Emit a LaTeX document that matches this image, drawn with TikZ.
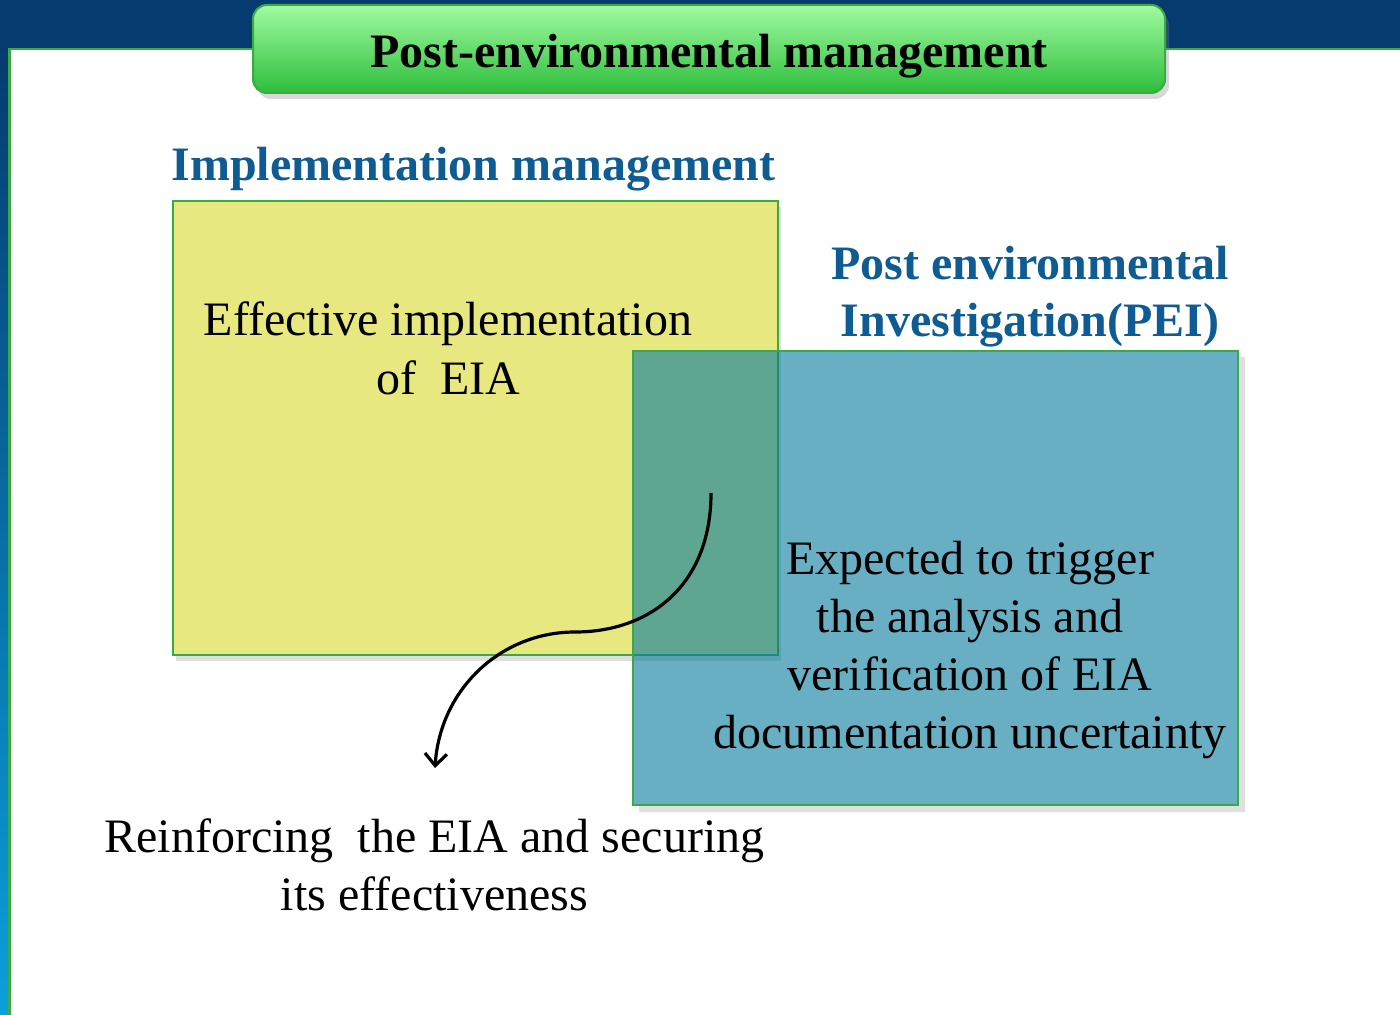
\documentclass[tikz,border=0pt]{standalone}
\usepackage{fontspec}
\setmainfont{Liberation Serif}
\usetikzlibrary{arrows.meta, shadows}
\definecolor{navy}{RGB}{6,59,111}
\definecolor{skyblue}{RGB}{10,160,220}
\definecolor{edgegreen}{RGB}{58,170,69}
\definecolor{lightgreen}{RGB}{160,251,160}
\definecolor{darkgreen}{RGB}{46,189,60}
\definecolor{headblue}{RGB}{15,92,147}
\definecolor{boxyellow}{RGB}{232,232,128}
\definecolor{boxblue}{RGB}{3,122,157}

\tikzset{
  body/.style={font=\fontsize{24}{29}\selectfont, align=center, anchor=base},
  heading/.style={font=\fontsize{24}{28.5}\selectfont\bfseries, text=headblue, align=center, anchor=base},
  titlebox/.style={draw=edgegreen, line width=1pt, rounded corners=7pt,
    top color=lightgreen, bottom color=darkgreen, minimum width=456pt, minimum height=44pt,
    text height=19pt, text depth=0pt, font=\fontsize{24}{28}\selectfont\bfseries,
    drop shadow={shadow xshift=2pt, shadow yshift=-3pt, opacity=0.3}},
}

\begin{document}
\begin{tikzpicture}[x=0.5pt, y=-0.5pt, >=latex]
	\useasboundingbox (0,0) rectangle (1400,1015);
	% frame of the slide
	\fill[navy] (0,0) rectangle (1400,49);
	\shade[top color=navy, bottom color=skyblue] (0,49) rectangle (9,1015);
	\draw[edgegreen, line width=1.2pt] (9.5,1015) -- (9.5,49) -- (1400,49);
	\node[titlebox] (title) at (709,49) {Post-environmental management};

	% the two boxes
	\draw[edgegreen, line width=0.8pt, fill=boxyellow,
	  drop shadow={shadow xshift=1.5pt, shadow yshift=-3pt, opacity=0.25}] (173,201) rectangle (778,655);
	\fill[black, opacity=0.12] (1238,357) -- (1245,357) -- (1245,812) -- (639,812) -- (639,805) -- (1238,805) -- cycle;
	\draw[edgegreen, line width=0.8pt, fill=boxblue, fill opacity=0.6] (633,351) rectangle (1238,805);

	% texts (base = last line)
	\node[heading] (implhead) at (473.5,181) {Implementation management};
	\node[heading] (peihead) at (1030,337) {Post environmental\\Investigation(PEI)};
	\node[body] (impltext) at (448,394) {Effective implementation\\of\ \ EIA};
	\node[body] (peitext) at (970,748) {Expected to trigger\\the analysis and\\verification of EIA\\documentation uncertainty};
	\node[body] (result) at (434.5,910) {Reinforcing\ \ the EIA and securing\\its effectiveness};

	\coordinate (arrstart) at (711,493);
	\coordinate (arrend) at (435,768);
	\draw[line width=1.6pt, -{Straight Barb[length=6pt,width=11pt]}] (arrstart)
	  .. controls (711,585) and (650,632) .. (575,632)
	  .. controls (500,632) and (440,690) .. (arrend);
\end{tikzpicture}
\end{document}
